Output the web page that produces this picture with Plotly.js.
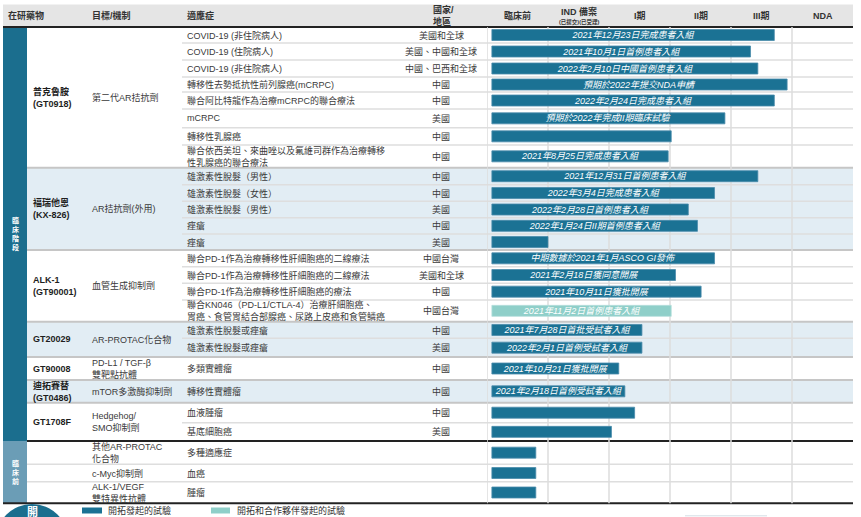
<!DOCTYPE html>
<html><head><meta charset="utf-8">
<script src="https://cdn.plot.ly/plotly-3.0.1.min.js"></script>
<style>html,body{margin:0;padding:0;background:#fff}#chart{width:861px;height:517px}</style>
</head><body><div id="chart"></div>
<script>
// ---------------- DATA ----------------
const phases = ["臨床前", "IND 備案", "I期", "II期", "III期", "NDA"];
const indSubLabel = "(已提交)(已受理)";
const headers = ["在研藥物", "目標/機制", "適應症", "國家/<br>地區"];
const stages = ["臨<br>床<br>階<br>段", "臨<br>床<br>前"];
const stageGroupCounts = [7, 3];
const drugNames = ["普克魯胺<br>(GT0918)", "褔瑞他恩<br>(KX-826)", "ALK-1<br>(GT90001)", "GT20029", "GT90008", "迪拓賽替<br>(GT0486)", "GT1708F", "", "", ""];
const mechanisms = ["第二代AR拮抗劑", "AR拮抗劑(外用)", "血管生成抑制劑", "AR-PROTAC化合物", "PD-L1 / TGF-β<br>雙靶點抗體", "mTOR多激酶抑制劑", "Hedgehog/<br>SMO抑制劑", "其他AR-PROTAC<br>化合物", "c-Myc抑制劑", "ALK-1/VEGF<br>雙特異性抗體"];
const groupSizes = [8, 5, 4, 2, 1, 1, 2, 1, 1, 1];
const indications = [
  "COVID-19 (非住院病人)", "COVID-19 (住院病人)", "COVID-19 (非住院病人)", "轉移性去勢抵抗性前列腺癌(mCRPC)",
  "聯合阿比特龍作為治療mCRPC的聯合療法", "mCRPC", "轉移性乳腺癌", "聯合依西美坦、來曲唑以及氟維司群作為治療轉移<br>性乳腺癌的聯合療法",
  "雄激素性脫髮（男性）", "雄激素性脫髮（女性）", "雄激素性脫髮（男性）", "痤瘡", "痤瘡",
  "聯合PD-1作為治療轉移性肝細胞癌的二線療法", "聯合PD-1作為治療轉移性肝細胞癌的二線療法", "聯合PD-1作為治療轉移性肝細胞癌的療法",
  "聯合KN046（PD-L1/CTLA-4）治療肝細胞癌、<br>胃癌、食管胃結合部腺癌、尿路上皮癌和食管鱗癌",
  "雄激素性脫髮或痤瘡", "雄激素性脫髮或痤瘡", "多類實體瘤", "轉移性實體瘤", "血液腫瘤", "基底細胞癌",
  "多種適應症", "血癌", "腫瘤"];
const regions = ["美國和全球", "美國、中國和全球", "中國、巴西和全球", "中國", "中國", "美國", "中國", "中國",
  "中國", "中國", "美國", "中國", "美國", "中國台灣", "美國和全球", "中國", "中國台灣", "中國", "美國",
  "中國", "中國", "中國", "美國", "", "", ""];
// progress measured in phase columns (0 = start of 臨床前, 6 = end of NDA)
const progress = [4.71, 4.32, 4.44, 4.92, 4.71, 3.90, 3.02, 2.97, 4.44, 3.73, 3.30, 3.45, 1.00,
  3.73, 3.09, 3.51, 3.02, 2.54, 2.54, 2.16, 2.26, 2.42, 2.04, 0.80, 0.80, 0.80];
const milestones = ["2021年12月23日完成患者入組", "2021年10月1日首例患者入組", "2022年2月10日中國首例患者入組",
  "預期於2022年提交NDA申請", "2022年2月24日完成患者入組", "預期於2022年完成II期臨床試驗", "", "2021年8月25日完成患者入組",
  "2021年12月31日首例患者入組", "2022年3月4日完成患者入組", "2022年2月28日首例患者入組", "2022年1月24日II期首例患者入組", "",
  "中期數據於2021年1月ASCO GI發佈", "2021年2月18日獲同意開展", "2021年10月11日獲批開展", "2021年11月2日首例患者入組",
  "2021年7月28日首批受試者入組", "2022年2月1日首例受試者入組", "2021年10月21日獲批開展", "2021年2月18日首例受試者入組",
  "", "", "", "", ""];
const sponsors = ["own", "own", "own", "own", "own", "own", "own", "own", "own", "own", "own", "own", "own",
  "own", "own", "own", "partner", "own", "own", "own", "own", "own", "own", "own", "own", "own"];
const legendLabels = { own: "開拓發起的試驗", partner: "開拓和合作夥伴發起的試驗" };
const logoText = "開";

// ---------------- LAYOUT / STYLE ----------------
const W = 861, H = 517;
const ROW_EDGES = [27, 43, 60, 77, 92, 109, 127.7, 145, 167.7, 184.7, 201.3, 217.7, 234, 250, 266.7, 283.3, 300,
  321.7, 338.3, 357, 380, 402.7, 422.7, 441, 464.3, 481.7, 503.3];
const SHADED_GROUPS = [1, 3, 5];
const X_LEFT = 3, BAND_R = 27, DRUG_X = 30.5, MECH_X = 89.5, IND_X = 184.5, IND_LINE_X = 182;
const REGION_CX = 441, REGION_HX = 430.5, PH0 = 487, PH6 = 853;
const BAR_START = 0.08, BAR_H = 11;
const COLORS = { own: "#1b7294", partner: "#8fcfc9", band: "#1b6e8e", band2: "#6b9db6", header: "#e5e5e5",
  shade: "#e2edf4", rowLine: "#dedede", groupLine: "#c6c6c6", grid: "#dcdcdc", black: "#222" };
const FONT = "Liberation Sans, Arial, Noto Sans CJK TC, sans-serif";
const px = v => v / W;

const rowCenters = [];
for (let i = 0; i < ROW_EDGES.length - 1; i++) rowCenters.push((ROW_EDGES[i] + ROW_EDGES[i + 1]) / 2);

const groupStart = [];
let acc = 0;
groupSizes.forEach(s => { groupStart.push(acc); acc += s; });

const shapes = [];
const annotations = [];
function rect(x0, x1, y0, y1, fill, layer) {
  shapes.push({ type: "rect", xref: "paper", yref: "y", x0: px(x0), x1: px(x1), y0, y1, fillcolor: fill, line: { width: 0 }, layer: layer || "below" });
}
function hline(x0, x1, y, color, width) {
  shapes.push({ type: "line", xref: "paper", yref: "y", x0: px(x0), x1: px(x1), y0: y, y1: y, line: { color, width }, layer: "below" });
}
function txt(x, y, text, o) {
  o = o || {};
  annotations.push({ xref: o.xref || "paper", yref: "y", x: o.xref === "x" ? x : px(x), y, text, showarrow: false,
    xanchor: o.xanchor || "left", yanchor: o.yanchor || "middle", align: o.align || "left",
    font: { family: FONT, size: o.size || 9, color: o.color || "#3a3a3a", weight: o.weight || 400 } });
}

rect(X_LEFT, PH6, 4.5, 26, COLORS.header);
SHADED_GROUPS.forEach(g => {
  rect(BAND_R, PH6, ROW_EDGES[groupStart[g]], ROW_EDGES[groupStart[g] + groupSizes[g]], COLORS.shade);
});
const clinEndRow = groupStart[stageGroupCounts[0]];
rect(X_LEFT, BAND_R, ROW_EDGES[0], ROW_EDGES[clinEndRow], COLORS.band);
rect(X_LEFT, BAND_R, ROW_EDGES[clinEndRow], ROW_EDGES[ROW_EDGES.length - 1], COLORS.band2);
for (let i = 0; i < phases.length; i++) {
  shapes.push({ type: "line", xref: "x", yref: "y", x0: i, x1: i, y0: ROW_EDGES[0], y1: ROW_EDGES[ROW_EDGES.length - 1], line: { color: COLORS.grid, width: 1.5 }, layer: "below" });
}
const groupEnds = new Set(groupStart.map((s, g) => s + groupSizes[g]));
for (let e = 1; e < ROW_EDGES.length - 1; e++) {
  if (e === clinEndRow) continue;
  if (e > clinEndRow) hline(BAND_R, PH6, ROW_EDGES[e], COLORS.rowLine, 1.5);
  else if (groupEnds.has(e)) hline(BAND_R, PH6, ROW_EDGES[e], COLORS.groupLine, 2);
  else hline(IND_LINE_X, PH6, ROW_EDGES[e], COLORS.rowLine, 1.5);
}
hline(X_LEFT, PH6, ROW_EDGES[0], COLORS.black, 2);
hline(BAND_R, PH6, ROW_EDGES[clinEndRow], COLORS.black, 2);
hline(X_LEFT, PH6, ROW_EDGES[ROW_EDGES.length - 1], COLORS.black, 2);

const HDR = { size: 9, color: "#333", weight: 700 };
txt(5.5, 15, headers[0], HDR);
txt(MECH_X, 15, headers[1], HDR);
txt(IND_X, 15, headers[2], HDR);
txt(REGION_HX, 15.5, headers[3], HDR);
phases.forEach((p, i) => {
  if (i === 1) {
    txt(i + 0.5, 11, p, Object.assign({}, HDR, { xref: "x", xanchor: "center", align: "center" }));
    txt(i + 0.5, 21.5, indSubLabel, { xref: "x", xanchor: "center", size: 5.5, color: "#333", weight: 700 });
  } else {
    txt(i + 0.5, 15.5, p, Object.assign({}, HDR, { xref: "x", xanchor: "center", align: "center" }));
  }
});

txt(15, (ROW_EDGES[0] + ROW_EDGES[clinEndRow]) / 2, stages[0], { xanchor: "center", align: "center", size: 7, color: "#fff", weight: 700 });
txt(15, (ROW_EDGES[clinEndRow] + ROW_EDGES[ROW_EDGES.length - 1]) / 2, stages[1], { xanchor: "center", align: "center", size: 7, color: "#fff", weight: 700 });

groupSizes.forEach((s, g) => {
  const yc = (ROW_EDGES[groupStart[g]] + ROW_EDGES[groupStart[g] + s]) / 2;
  if (drugNames[g]) txt(DRUG_X, yc, drugNames[g], { weight: 700, color: "#1e1e1e" });
  txt(MECH_X, yc, mechanisms[g], { color: "#3a3a3a" });
});
indications.forEach((t, i) => {
  txt(IND_X, rowCenters[i], t);
  if (regions[i]) txt(REGION_CX, rowCenters[i], regions[i], { xanchor: "center", align: "center" });
});

rect(82, 102, 507.5, 513.5, COLORS.own, "above");
txt(105.5, 510.5, legendLabels.own, { color: "#333" });
rect(211, 230, 507.5, 513.5, COLORS.partner, "above");
txt(234.5, 510.5, legendLabels.partner, { color: "#333" });
shapes.push({ type: "circle", xref: "paper", yref: "y", x0: px(-4), x1: px(68), y0: 504, y1: 576, fillcolor: COLORS.band, line: { width: 0 }, layer: "above" });
txt(32, 511.5, logoText, { xanchor: "center", size: 11, color: "#fff", weight: 700 });
hline(685, 767, 515.8, "#d3dde4", 1);

function barTrace(kind) {
  const idx = progress.map((_, i) => i).filter(i => sponsors[i] === kind);
  return {
    type: "bar", orientation: "h",
    y: idx.map(i => rowCenters[i]),
    x: idx.map(i => progress[i] - BAR_START),
    base: BAR_START, width: BAR_H,
    text: idx.map(i => milestones[i]),
    textposition: "inside", insidetextanchor: "middle", constraintext: "none", textangle: 0,
    textfont: { family: FONT, size: 9, color: "#ffffff", style: "italic" },
    marker: { color: COLORS[kind], line: { color: kind === "own" ? "#4a8cab" : "#b5e0dc", width: 0.8 } },
    hoverinfo: "skip", showlegend: false, cliponaxis: false
  };
}

const layout = {
  width: W, height: H, margin: { l: 0, r: 0, t: 0, b: 0 },
  paper_bgcolor: "#ffffff", plot_bgcolor: "rgba(0,0,0,0)",
  xaxis: { domain: [px(PH0), px(PH6)], range: [0, phases.length], visible: false, fixedrange: true },
  yaxis: { domain: [0, 1], range: [H, 0], visible: false, fixedrange: true },
  shapes, annotations, showlegend: false, barmode: "overlay"
};
Plotly.newPlot("chart", [barTrace("own"), barTrace("partner")], layout, { displayModeBar: false, staticPlot: true });
</script>
</body></html>
